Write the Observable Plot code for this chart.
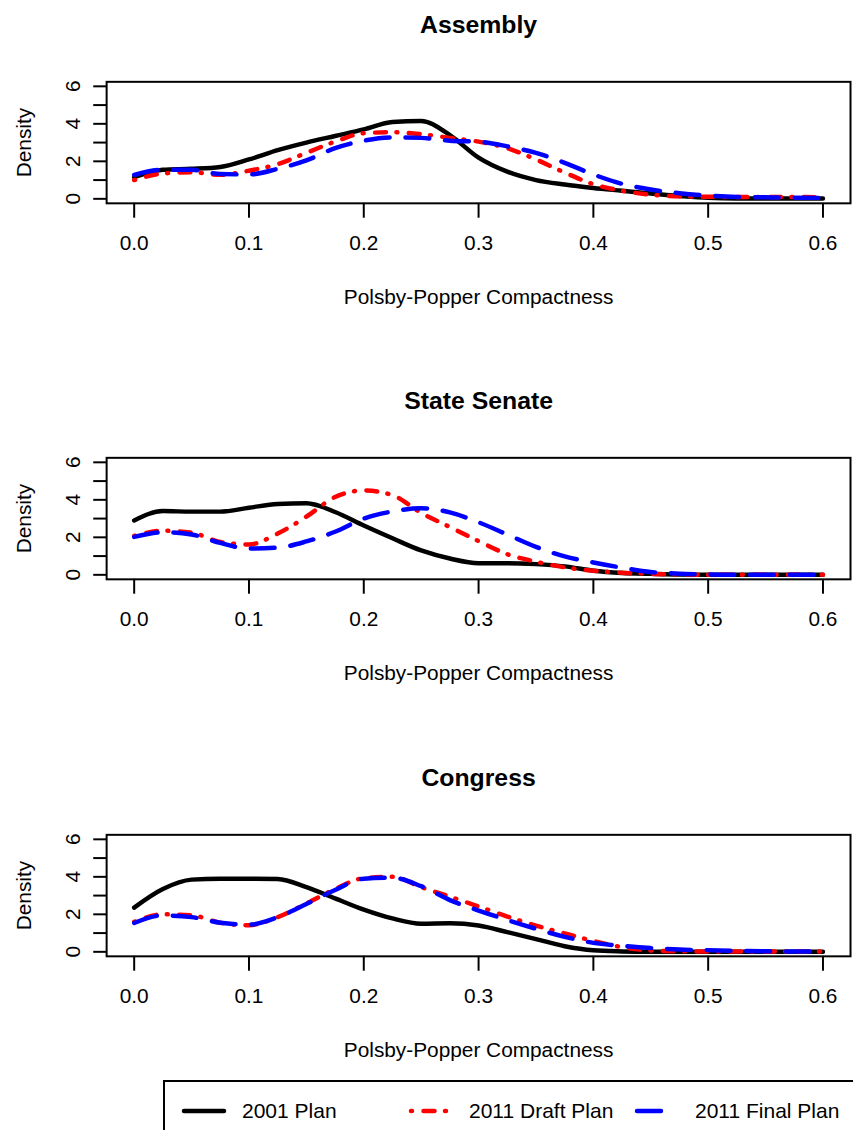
<!DOCTYPE html>
<html>
<head>
<meta charset="utf-8">
<script src="https://cdn.jsdelivr.net/npm/d3@7"></script>
<script src="https://cdn.jsdelivr.net/npm/@observablehq/plot@0.6"></script>
<style>
  body { margin: 0; background: #fff; overflow: hidden; }
  #wrap { position: relative; width: 853px; height: 1130px; overflow: hidden; background: #fff;
          font-family: "Liberation Sans", Arial, Helvetica, sans-serif; }
  .panel { position: absolute; left: 0; }
  #legend { position: absolute; left: 163px; top: 1080px; }
</style>
</head>
<body>
<div id="wrap"></div>
<script>
// ---- data ----
const xGrid = [0, 0.025, 0.05, 0.075, 0.1, 0.125, 0.15, 0.175, 0.2, 0.225, 0.25, 0.275, 0.3,
               0.325, 0.35, 0.375, 0.4, 0.425, 0.45, 0.475, 0.5, 0.525, 0.55, 0.575, 0.6];

const panelTitles = ["Assembly", "State Senate", "Congress"];
const planNames = ["2001 Plan", "2011 Draft Plan", "2011 Final Plan"];

const assembly2001  = [1.15,1.55,1.6,1.7,2.1,2.6,3.0,3.35,3.7,4.1,4.15,3.4,2.2,1.45,1.0,0.76,0.58,0.43,0.28,0.15,0.05,0.02,0.02,0.02,0.02];
const assemblyDraft = [1.0,1.35,1.42,1.28,1.5,1.85,2.45,3.05,3.5,3.55,3.45,3.25,3.05,2.7,2.1,1.4,0.78,0.43,0.22,0.13,0.11,0.1,0.1,0.1,0.08];
const assemblyFinal = [1.28,1.55,1.55,1.32,1.3,1.6,2.05,2.7,3.1,3.27,3.25,3.1,3.05,2.8,2.45,1.92,1.3,0.8,0.5,0.3,0.17,0.1,0.08,0.06,0.05];

const senate2001  = [2.9,3.4,3.37,3.37,3.58,3.78,3.82,3.35,2.63,1.95,1.3,0.87,0.62,0.62,0.57,0.45,0.22,0.1,0.05,0.01,0,0,0,0,0];
const senateDraft = [2.07,2.35,2.25,1.75,1.62,2.2,3.1,4.15,4.5,4.25,3.3,2.55,1.8,1.1,0.7,0.4,0.22,0.11,0.05,0.02,0,0,0,0,0];
const senateFinal = [2.02,2.27,2.15,1.7,1.4,1.45,1.78,2.3,3.0,3.38,3.55,3.33,2.8,2.15,1.49,0.98,0.66,0.38,0.15,0.06,0.02,0,0,0,0];

const congress2001  = [2.36,3.35,3.85,3.9,3.9,3.88,3.45,2.85,2.25,1.78,1.5,1.52,1.4,1.05,0.68,0.3,0.08,0.02,0,0,0,0,0,0,0];
const congressDraft = [1.6,2.0,1.95,1.55,1.42,1.85,2.58,3.35,3.93,4.0,3.45,2.94,2.42,1.88,1.4,0.98,0.58,0.25,0.07,0.03,0.02,0.02,0.02,0.02,0.02];
const congressFinal = [1.54,1.94,1.85,1.55,1.45,1.85,2.55,3.3,3.9,3.95,3.5,2.76,2.2,1.7,1.23,0.8,0.48,0.32,0.2,0.12,0.09,0.05,0.03,0.02,0.02];

const xTicks = [0, 0.1, 0.2, 0.3, 0.4, 0.5, 0.6];
const yTicks = [0, 1, 2, 3, 4, 5, 6];
const yTickLabels = [0, 2, 4, 6];
const xLabel = "Polsby-Popper Compactness";
const yLabel = "Density";

// styles
const planColors = ["black", "red", "blue"];
const planDashes = [null, "1,11.5,11,10.5", "24,16"];
const lineWidth = 4.5;

const panelSeries = [
  [assembly2001, assemblyDraft, assemblyFinal],
  [senate2001, senateDraft, senateFinal],
  [congress2001, congressDraft, congressFinal]
];

const FONT = "Liberation Sans, Arial, Helvetica, sans-serif";
const wrap = document.getElementById("wrap");
const panelTops = [0, 376, 753];

panelSeries.forEach((series, p) => {
  const lines = series.map((vals, s) => {
    const rows = xGrid.map((x, i) => ({x, y: vals[i], plan: planNames[s]}));
    return Plot.line(rows, {
      x: "x", y: "y", stroke: planColors[s], strokeWidth: lineWidth,
      strokeDasharray: planDashes[s] || undefined, strokeLinecap: "round",
      strokeLinejoin: "round", curve: "monotone-x"
    });
  });
  const chart = Plot.plot({
    width: 860, height: 376,
    marginLeft: 107, marginRight: 3, marginTop: 82, marginBottom: 171.5,
    style: {fontFamily: FONT, fontSize: "21px", color: "black", background: "white", overflow: "visible"},
    x: {domain: [-0.024, 0.624]},
    y: {domain: [-0.24, 6.24]},
    marks: [
      ...lines,
      Plot.frame({stroke: "black", strokeWidth: 2}),
      Plot.axisX({ticks: xTicks, tickSize: 15, tickFormat: () => "", label: null, strokeWidth: 2}),
      Plot.axisY({ticks: yTicks, tickSize: 13, tickFormat: () => "", label: null, strokeWidth: 2}),
      Plot.text(xTicks, {x: d => d, text: d => d.toFixed(1), frameAnchor: "bottom", lineAnchor: "middle", dy: 40.5, fontSize: 21}),
      Plot.text(yTickLabels, {y: d => d, text: d => String(d), frameAnchor: "left", dx: -33.5, rotate: -90, textAnchor: "middle", lineAnchor: "middle", fontSize: 21}),
      Plot.text([yLabel], {text: d => d, frameAnchor: "left", dx: -83, rotate: -90, textAnchor: "middle", lineAnchor: "middle", fontSize: 21}),
      Plot.text([xLabel], {text: d => d, frameAnchor: "bottom", lineAnchor: "middle", dy: 94.5, fontSize: 21}),
      Plot.text([panelTitles[p]], {text: d => d, frameAnchor: "top", lineAnchor: "middle", dy: -57, fontSize: 25, fontWeight: "bold"})
    ]
  });
  const div = document.createElement("div");
  div.className = "panel";
  div.style.top = panelTops[p] + "px";
  div.appendChild(chart);
  wrap.appendChild(div);
});

// ---- legend ----
const legendX = [21, 248, 474];
const ns = "http://www.w3.org/2000/svg";
const leg = document.createElementNS(ns, "svg");
leg.setAttribute("id", "legend");
leg.setAttribute("width", 700);
leg.setAttribute("height", 60);
leg.style.fontFamily = FONT;
const border = document.createElementNS(ns, "rect");
border.setAttribute("x", 1); border.setAttribute("y", 1);
border.setAttribute("width", 697); border.setAttribute("height", 80);
border.setAttribute("fill", "white"); border.setAttribute("stroke", "black"); border.setAttribute("stroke-width", 2);
leg.appendChild(border);
planNames.forEach((name, i) => {
  const ln = document.createElementNS(ns, "line");
  ln.setAttribute("x1", legendX[i]); ln.setAttribute("x2", legendX[i] + 40);
  ln.setAttribute("y1", 31); ln.setAttribute("y2", 31);
  ln.setAttribute("stroke", planColors[i]); ln.setAttribute("stroke-width", lineWidth);
  ln.setAttribute("stroke-linecap", "round");
  if (planDashes[i]) ln.setAttribute("stroke-dasharray", planDashes[i]);
  leg.appendChild(ln);
  const t = document.createElementNS(ns, "text");
  t.setAttribute("x", legendX[i] + 58); t.setAttribute("y", 31);
  t.setAttribute("dy", "0.35em");
  t.setAttribute("font-size", 21);
  t.textContent = name;
  leg.appendChild(t);
});
wrap.appendChild(leg);
</script>
</body>
</html>
